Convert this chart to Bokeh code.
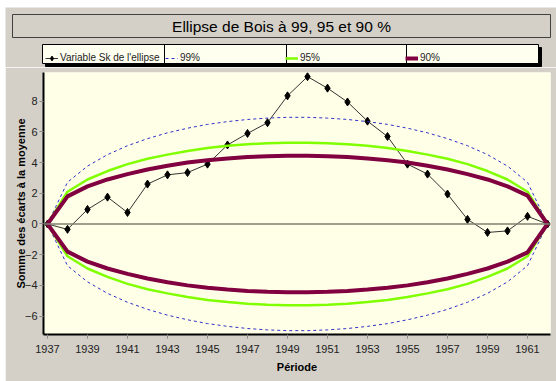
import numpy as np
from bokeh.plotting import figure
from bokeh.layouts import column, row
from bokeh.models import (Range1d, FixedTicker, Span, Legend, LegendItem)
from bokeh.core.properties import value
from bokeh.embed import file_html
from bokeh.resources import INLINE

# Years of the period
years = list(range(1937, 1963))

# Cumulative sum of deviations from the mean (Sk)
sk = [0.0, -0.35, 0.95, 1.75, 0.75, 2.6, 3.2, 3.35, 3.9, 5.15, 5.9, 6.6,
      8.35, 9.6, 8.85, 7.95, 6.7, 5.7, 3.9, 3.25, 1.95, 0.3, -0.55, -0.45,
      0.5, 0.0]

# Half-heights of Bois ellipses (upper branch; lower branch is symmetric)
ell_99 = [0.0, 2.72, 3.77, 4.52, 5.1, 5.56, 5.94, 6.24, 6.49, 6.67, 6.81,
          6.9, 6.95, 6.95, 6.9, 6.81, 6.67, 6.49, 6.24, 5.94, 5.56, 5.1,
          4.52, 3.77, 2.72, 0.0]
ell_95 = [0.0, 2.1, 2.9, 3.45, 3.9, 4.25, 4.52, 4.76, 4.95, 5.09, 5.2,
          5.26, 5.3, 5.3, 5.26, 5.2, 5.09, 4.95, 4.76, 4.52, 4.25, 3.9,
          3.45, 2.9, 2.1, 0.0]
ell_90 = [0.0, 1.8, 2.45, 2.9, 3.25, 3.55, 3.8, 4.0, 4.15, 4.27, 4.36,
          4.42, 4.45, 4.45, 4.42, 4.36, 4.27, 4.15, 4.0, 3.8, 3.55, 3.25,
          2.9, 2.45, 1.85, 0.0]

x_ticks = list(range(1937, 1962, 2))
y_ticks = [-6, -4, -2, 0, 2, 4, 6, 8]

title_text = "Ellipse de Bois à 99, 95 et 90 %"
x_title = "Période"
y_title = "Somme des écarts à la moyenne"
labels = ["Variable Sk de l'ellipse", "99%", "95%", "90%"]

GRAY = "#d4d0c8"
CREAM = "#ffffe8"
FONT = "Liberation Sans"

C_SK = "#333333"
C_99 = "#3030c8"
C_95 = "#80ff00"
C_90 = "#800040"

# ---------------------------------------------------------------- header
# Pixel-space canvas holding the framed title and the boxed legend.
hdr = figure(width=551, height=60, output_backend="svg",
             toolbar_location=None, x_range=Range1d(5, 556),
             y_range=Range1d(67, 7), min_border=0,
             x_axis_location=None, y_axis_location=None)
hdr.grid.visible = False
hdr.outline_line_color = None
hdr.background_fill_color = GRAY
hdr.border_fill_color = GRAY

# title frame
hdr.quad(left=[12], right=[550], top=[14], bottom=[37],
         fill_color=GRAY, line_color="#404040", line_width=1)
hdr.text(x=[281], y=[26], text=[title_text], text_align="center",
         text_baseline="middle", text_font=value(FONT),
         text_font_size="15.5px", text_color="black")

# legend frame with drop shadow
hdr.quad(left=[45], right=[541], top=[47], bottom=[66],
         fill_color="black", line_color="black")
hdr.quad(left=[42], right=[538], top=[44], bottom=[63],
         fill_color="#fffff0", line_color="black", line_width=1)
hdr.segment(x0=[164, 286, 406], y0=[44, 44, 44],
            x1=[164, 286, 406], y1=[63, 63, 63],
            line_color="black", line_width=1)

# legend samples: placeholder renderers carrying the series styles
nan = np.array([np.nan])
lg_sk = hdr.line(nan, nan, line_color=C_SK, line_width=1)
lg_skp = hdr.scatter(nan, nan, marker="diamond", size=8,
                     fill_color="black", line_color="black")
lg_99 = hdr.line(nan, nan, line_color=C_99, line_width=1, line_dash="3 3")
lg_95 = hdr.line(nan, nan, line_color=C_95, line_width=2.5)
lg_90 = hdr.line(nan, nan, line_color=C_90, line_width=4)

legend = Legend(items=[
    LegendItem(label=labels[0], renderers=[lg_sk, lg_skp]),
    LegendItem(label=labels[1], renderers=[lg_99]),
    LegendItem(label=labels[2], renderers=[lg_95]),
    LegendItem(label=labels[3], renderers=[lg_90]),
], orientation="horizontal", location=(40, 3.5),
    glyph_width=13, glyph_height=12, label_standoff=2, label_width=101,
    label_height=12, spacing=4, padding=4, margin=0,
    label_text_font=FONT, label_text_font_size="10px",
    label_text_color="#222222",
    background_fill_alpha=0, border_line_color=None)
hdr.add_layout(legend)

# ---------------------------------------------------------------- chart
p = figure(width=551, height=314, output_backend="svg",
           toolbar_location=None,
           x_range=Range1d(1936.8, 1962.15), y_range=Range1d(-7.2, 9.87),
           min_border_left=38, min_border_right=6,
           min_border_top=5, min_border_bottom=47)
p.background_fill_color = CREAM
p.border_fill_color = GRAY
p.outline_line_color = None
p.grid.visible = False

for ax in (p.xaxis[0], p.yaxis[0]):
    ax.axis_line_color = "black"
    ax.axis_line_width = 2
    ax.major_tick_line_color = "#888888"
    ax.major_tick_out = 4
    ax.major_tick_in = 0
    ax.minor_tick_line_color = None
    ax.major_label_text_font = FONT
    ax.major_label_text_font_size = "11px"
    ax.major_label_text_color = "#222222"
    ax.axis_label_text_font = FONT
    ax.axis_label_text_font_size = "11px"
    ax.axis_label_text_font_style = "bold"
    ax.axis_label_text_color = "black"

p.xaxis.ticker = FixedTicker(ticks=x_ticks)
p.yaxis.ticker = FixedTicker(ticks=y_ticks)
p.xaxis.major_label_standoff = 6
p.yaxis.major_label_standoff = 2
p.xaxis.axis_label = x_title
p.yaxis.axis_label = y_title
p.xaxis.axis_label_standoff = 5
p.yaxis.axis_label_standoff = -5

# zero line
p.add_layout(Span(location=0, dimension="width", line_color="#7f7f70",
                  line_width=1.5))

# Sk series
p.line(years, sk, line_color=C_SK, line_width=1)
p.scatter(years, sk, marker="diamond", size=8,
          fill_color="black", line_color="black")

# ellipses, upper and lower branches
neg = lambda v: [-a for a in v]
for vals, kw in ((ell_99, dict(line_color=C_99, line_width=1,
                               line_dash="3 3")),
                 (ell_95, dict(line_color=C_95, line_width=2.5)),
                 (ell_90, dict(line_color=C_90, line_width=4))):
    p.line(years, vals, **kw)
    p.line(years, neg(vals), **kw)

# header sits in its own row so its frame is not aligned with the chart's
layout = column(row(hdr), p, spacing=0, margin=(7, 0, 0, 5))

open("out.html", "w").write(file_html(layout, INLINE))
